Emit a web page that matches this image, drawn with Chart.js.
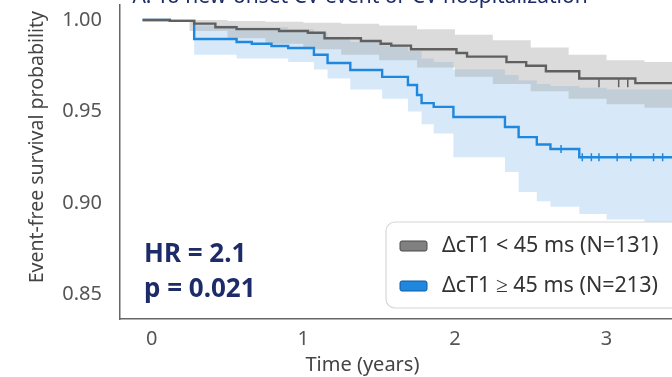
<!DOCTYPE html>
<html>
<head>
<meta charset="utf-8">
<script src="https://cdn.jsdelivr.net/npm/chart.js@4.4.1/dist/chart.umd.min.js"></script>
<style>
  html, body { margin: 0; padding: 0; background: #fff; overflow: hidden; }
  #wrap { position: absolute; left: 0; top: -27px; width: 720px; height: 404px; }
</style>
</head>
<body>
<div id="wrap"><canvas id="km"></canvas></div>
<script>
// Kaplan-Meier estimates
var grayT = [-0.06, 0.12, 0.28, 0.42, 0.56, 0.84, 1.03, 1.14, 1.38, 1.51, 1.58, 1.71, 2.01, 2.08, 2.34, 2.47, 2.60, 2.82, 3.19, 3.72];
var grayS = [1.000, 0.9995, 0.998, 0.996, 0.995, 0.994, 0.993, 0.990, 0.9885, 0.987, 0.986, 0.984, 0.982, 0.980, 0.977, 0.975, 0.972, 0.968, 0.9655, 0.9655];

var blueT = [-0.06, 0.12, 0.28, 0.56, 0.66, 0.79, 0.90, 1.07, 1.16, 1.31, 1.52, 1.69, 1.75, 1.78, 1.86, 1.99, 2.33, 2.42, 2.54, 2.63, 2.82, 3.72];
var blueS = [1.000, 0.9995, 0.9896, 0.988, 0.987, 0.9858, 0.9847, 0.981, 0.9765, 0.9727, 0.9689, 0.9645, 0.959, 0.9546, 0.9525, 0.947, 0.9415, 0.936, 0.932, 0.9295, 0.925, 0.925];

// confidence bands
var grayBandT = [-0.06, 0.25, 0.5, 0.75, 1.0, 1.25, 1.5, 1.75, 2.0, 2.25, 2.5, 2.75, 3.0, 3.25, 3.72];
var grayUpper = [1.0, 1.0, 0.9995, 0.999, 0.9985, 0.998, 0.997, 0.995, 0.992, 0.989, 0.985, 0.981, 0.978, 0.977, 0.976];
var grayLower = [1.0, 0.994, 0.990, 0.987, 0.984, 0.981, 0.978, 0.974, 0.969, 0.965, 0.961, 0.957, 0.954, 0.952, 0.951];

var blueBandT = [-0.06, 0.28, 0.56, 0.9, 1.07, 1.16, 1.31, 1.52, 1.69, 1.78, 1.86, 1.99, 2.33, 2.42, 2.54, 2.63, 2.82, 3.0, 3.25, 3.72];
var blueUpper = [1.0, 0.997, 0.996, 0.995, 0.993, 0.990, 0.988, 0.986, 0.983, 0.979, 0.977, 0.973, 0.970, 0.967, 0.965, 0.964, 0.963, 0.962, 0.962, 0.962];
var blueLower = [1.0, 0.981, 0.979, 0.977, 0.973, 0.968, 0.962, 0.957, 0.950, 0.943, 0.938, 0.925, 0.917, 0.906, 0.901, 0.898, 0.894, 0.891, 0.888, 0.884];

// censor marks
var grayCensorT = [2.95, 3.08, 3.14];
var grayCensorS = [0.9655, 0.9655, 0.9655];
var blueCensorT = [2.70, 2.84, 2.90, 2.95, 3.07, 3.16, 3.31, 3.37];
var blueCensorS = [0.9295, 0.925, 0.925, 0.925, 0.925, 0.925, 0.925, 0.925];

var xTicks = [0, 1, 2, 3];
var yTicks = [0.85, 0.90, 0.95, 1.00];
var groupLabels = ["\u0394cT1 < 45 ms (N=131)", "\u0394cT1 \u2265 45 ms (N=213)"];
var statLines = ["HR = 2.1", "p = 0.021"];
var titleText = "A: To new-onset CV event or CV hospitalization";

var GRAY = "#606060", BLUE = "#1f87de";

function pts(xs, ys) {
  return xs.map(function (x, i) { return { x: x, y: ys[i] }; });
}

function band(xs, ys, color, fill) {
  return { data: pts(xs, ys), stepped: "before", borderWidth: 0, pointRadius: 0,
           backgroundColor: color, fill: fill, order: 3 };
}

var overlay = {
  id: "overlay",
  afterDraw: function (chart) {
    var ctx = chart.ctx, a = chart.chartArea;
    var xs = chart.scales.x, ys = chart.scales.y;
    ctx.save();
    // title, mostly cropped off the top
    ctx.fillStyle = "#1d2b68";
    ctx.font = "21px 'Noto Sans'";
    ctx.textAlign = "center";
    ctx.textBaseline = "alphabetic";
    ctx.fillText(titleText, 360, a.top - 2);
    // axis titles
    ctx.fillStyle = "#444";
    ctx.font = "20px 'Noto Sans'";
    ctx.textBaseline = "middle";
    ctx.fillText("Time (years)", xs.getPixelForValue(1.39), a.bottom + 46);
    ctx.translate(37, ys.getPixelForValue(0.9305));
    ctx.rotate(-Math.PI / 2);
    ctx.font = "19.5px 'Noto Sans'";
    ctx.fillText("Event-free survival probability", 0, 0);
    ctx.restore();

    // HR / p
    ctx.save();
    ctx.fillStyle = "#1d2b68";
    ctx.font = "bold 26px 'Noto Sans'";
    ctx.textBaseline = "middle";
    ctx.fillText(statLines[0], a.left + 24, a.bottom - 64);
    ctx.fillText(statLines[1], a.left + 24, a.bottom - 29);
    ctx.restore();

    // legend box
    var lx = a.left + 266, ly = a.bottom - 97, lw = 340, lh = 86;
    ctx.save();
    ctx.beginPath();
    ctx.roundRect(lx, ly, lw, lh, 9);
    ctx.fillStyle = "rgba(255,255,255,0.92)";
    ctx.fill();
    ctx.strokeStyle = "#d6d6d6";
    ctx.lineWidth = 1.2;
    ctx.stroke();
    var sw = [["#808080", "#4a4a4a"], ["#1f87de", "#0f5aa0"]];
    ctx.font = "21.5px 'Noto Sans'";
    ctx.textBaseline = "middle";
    for (var i = 0; i < 2; i++) {
      var cy = ly + 24 + i * 40;
      ctx.beginPath();
      ctx.roundRect(lx + 14, cy - 5, 27, 10, 2);
      ctx.fillStyle = sw[i][0];
      ctx.fill();
      ctx.strokeStyle = sw[i][1];
      ctx.lineWidth = 1;
      ctx.stroke();
      ctx.fillStyle = "#333";
      ctx.fillText(groupLabels[i], lx + 56, cy);
    }
    ctx.restore();
  }
};

new Chart("km", {
  type: "line",
  data: {
    datasets: [
      band(grayBandT, grayUpper, "rgba(150,150,150,0.34)", "+1"),
      band(grayBandT, grayLower, "rgba(0,0,0,0)", false),
      band(blueBandT, blueUpper, "rgba(110,175,232,0.28)", "+1"),
      band(blueBandT, blueLower, "rgba(0,0,0,0)", false),
      { label: groupLabels[0], data: pts(grayT, grayS), stepped: "before", borderColor: GRAY,
        borderWidth: 2.4, pointRadius: 0, fill: false, order: 1 },
      { label: groupLabels[1], data: pts(blueT, blueS), stepped: "before", borderColor: BLUE,
        borderWidth: 2.4, pointRadius: 0, fill: false, order: 1 },
      { data: pts(grayCensorT, grayCensorS), showLine: false, pointStyle: "line", rotation: 90,
        pointRadius: 4, borderColor: GRAY, borderWidth: 1.5, order: 0 },
      { data: pts(blueCensorT, blueCensorS), showLine: false, pointStyle: "line", rotation: 90,
        pointRadius: 4, borderColor: BLUE, borderWidth: 1.5, order: 0 }
    ]
  },
  options: {
    responsive: true,
    maintainAspectRatio: false,
    animation: false,
    layout: { padding: { top: 32 } },
    plugins: {
      legend: { display: false },
      tooltip: { enabled: false },
      title: { display: false }
    },
    scales: {
      x: {
        type: "linear",
        min: -0.209,
        max: 3.712,
        afterBuildTicks: function (s) { s.ticks = xTicks.map(function (v) { return { value: v }; }); },
        afterFit: function (s) { s.height = 58; },
        grid: { display: false, drawTicks: true, tickLength: 5, tickColor: "#666" },
        border: { display: true, color: "#666", width: 1.5 },
        ticks: { color: "#555", font: { family: "'Noto Sans'", size: 20 }, padding: 3,
                 callback: function (v) { return v; } }
      },
      y: {
        min: 0.8366,
        max: 1.0082,
        afterBuildTicks: function (s) { s.ticks = yTicks.map(function (v) { return { value: v }; }); },
        afterFit: function (s) { s.width = 120; },
        grid: { display: false, drawTicks: true, tickLength: 6, tickColor: "#666" },
        border: { display: true, color: "#666", width: 1.5 },
        ticks: { color: "#555", font: { family: "'Noto Sans'", size: 20 }, padding: 12,
                 callback: function (v) { return v.toFixed(2); } }
      }
    }
  },
  plugins: [overlay]
});
</script>
</body>
</html>
